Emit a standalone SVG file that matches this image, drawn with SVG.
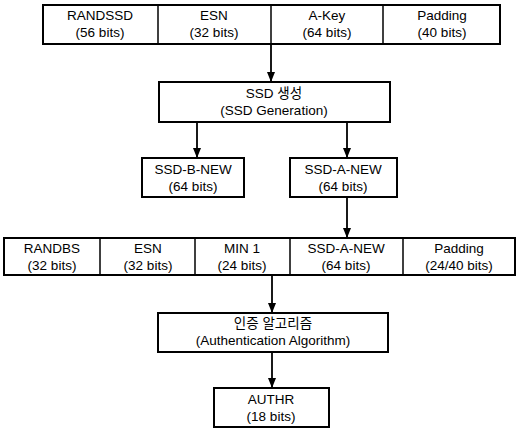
<svg xmlns="http://www.w3.org/2000/svg" width="517" height="430" viewBox="0 0 517 430">
<defs>
<style>
.box{fill:#fff;stroke:#000;stroke-width:2}
.div{stroke:#000;stroke-width:1.5}
.t{font-family:"Liberation Sans","Noto Sans CJK KR",sans-serif;font-size:13.5px;text-anchor:middle;fill:#000}
.c{stroke:#000;stroke-width:1.8;fill:none}
</style>
<marker id="ah" viewBox="0 0 10 8" refX="10" refY="4" markerWidth="10" markerHeight="8" orient="auto" markerUnits="userSpaceOnUse"><path d="M0,0 L10,4 L0,8 Z" fill="#000"/></marker>
</defs>
<g id="connectors">
<line class="c" x1="271" y1="44" x2="271" y2="82" marker-end="url(#ah)"/>
<line class="c" x1="197" y1="122" x2="197" y2="158" marker-end="url(#ah)"/>
<line class="c" x1="347" y1="122" x2="347" y2="158" marker-end="url(#ah)"/>
<line class="c" x1="347" y1="197" x2="347" y2="238" marker-end="url(#ah)"/>
<line class="c" x1="272" y1="275" x2="272" y2="313" marker-end="url(#ah)"/>
<line class="c" x1="272" y1="352" x2="272" y2="388" marker-end="url(#ah)"/>
</g>
<g id="row1">
<rect class="box" x="43" y="5" width="457" height="39"/>
<line class="div" x1="158" y1="5" x2="158" y2="44"/>
<line class="div" x1="271" y1="5" x2="271" y2="44"/>
<line class="div" x1="383" y1="5" x2="383" y2="44"/>
<text class="t" x="100" y="20">RANDSSD</text><text class="t" x="100" y="37">(56 bits)</text>
<text class="t" x="214" y="20">ESN</text><text class="t" x="214" y="37">(32 bits)</text>
<text class="t" x="327" y="20">A-Key</text><text class="t" x="327" y="37">(64 bits)</text>
<text class="t" x="442" y="20">Padding</text><text class="t" x="442" y="37">(40 bits)</text>
</g>
<g id="ssdgen">
<rect class="box" x="159" y="82" width="231" height="40"/>
<text class="t" x="274" y="98">SSD 생성</text><text class="t" x="274" y="115">(SSD Generation)</text>
</g>
<g id="ssdb">
<rect class="box" x="142" y="158" width="102" height="39"/>
<text class="t" x="193" y="174">SSD-B-NEW</text><text class="t" x="193" y="191">(64 bits)</text>
</g>
<g id="ssda">
<rect class="box" x="290" y="158" width="107" height="39"/>
<text class="t" x="343" y="174">SSD-A-NEW</text><text class="t" x="343" y="191">(64 bits)</text>
</g>
<g id="row2">
<rect class="box" x="4" y="238" width="511" height="37"/>
<line class="div" x1="100" y1="238" x2="100" y2="275"/>
<line class="div" x1="195" y1="238" x2="195" y2="275"/>
<line class="div" x1="290" y1="238" x2="290" y2="275"/>
<line class="div" x1="403" y1="238" x2="403" y2="275"/>
<text class="t" x="52" y="253">RANDBS</text><text class="t" x="52" y="270">(32 bits)</text>
<text class="t" x="148" y="253">ESN</text><text class="t" x="148" y="270">(32 bits)</text>
<text class="t" x="242" y="253">MIN 1</text><text class="t" x="242" y="270">(24 bits)</text>
<text class="t" x="346" y="253">SSD-A-NEW</text><text class="t" x="346" y="270">(64 bits)</text>
<text class="t" x="459" y="253">Padding</text><text class="t" x="459" y="270">(24/40 bits)</text>
</g>
<g id="auth">
<rect class="box" x="158" y="313" width="230" height="39"/>
<text class="t" x="273" y="328">인증 알고리즘</text><text class="t" x="273" y="345">(Authentication Algorithm)</text>
</g>
<g id="authr">
<rect class="box" x="214" y="388" width="115" height="39"/>
<text class="t" x="271" y="404">AUTHR</text><text class="t" x="271" y="421">(18 bits)</text>
</g>
</svg>
